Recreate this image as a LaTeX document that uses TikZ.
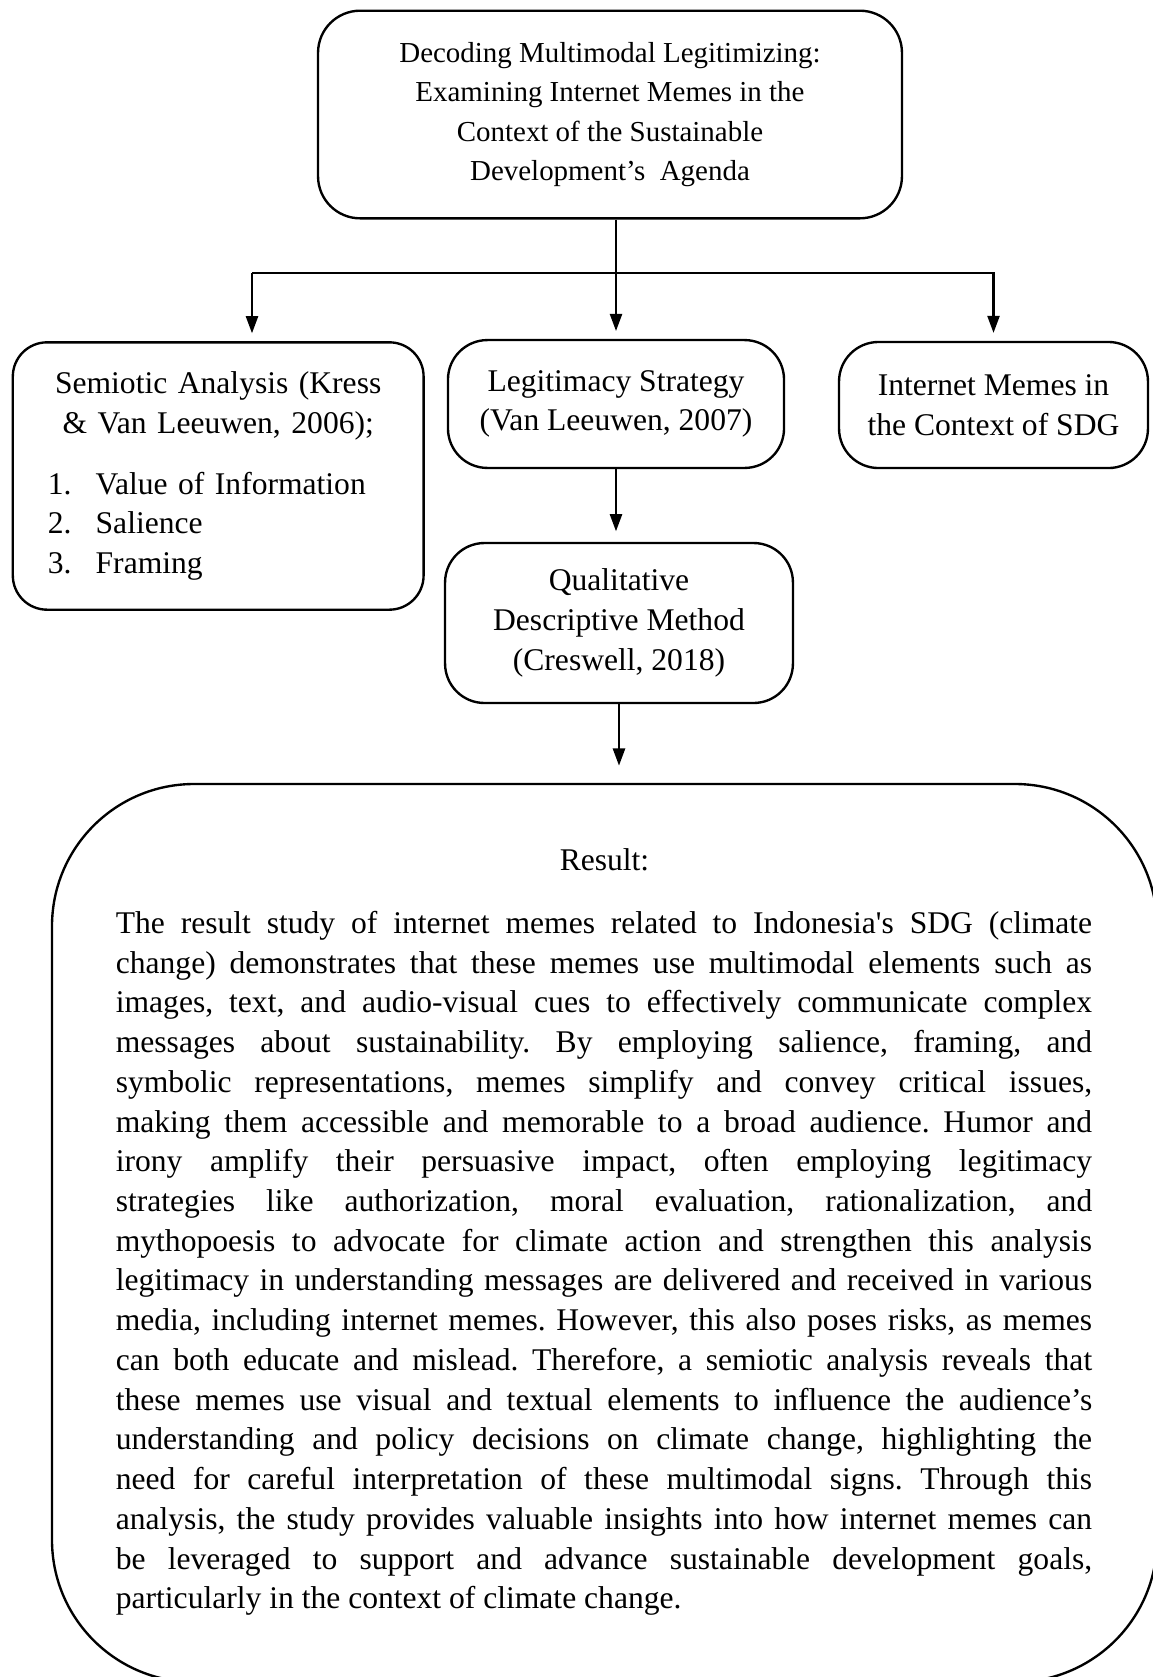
\documentclass[tikz,border=0pt]{standalone}
\usepackage{fontspec}
\setmainfont{Liberation Serif}
\usetikzlibrary{arrows.meta}
\frenchspacing

\begin{document}
\begin{tikzpicture}[x=0.38pt, y=-0.38pt,
  every node/.style={font=\fontsize{12}{15.1}\selectfont},
  boxline/.style={draw, line width=0.9pt, inner sep=0pt},
  box/.style={boxline, rounded corners=15pt, align=center},
  arr/.style={-{Triangle[length=6.5pt,width=4.6pt]}, line width=0.8pt, shorten >=3pt}]
\useasboundingbox (0,0) rectangle (1153,1677);
\clip (0,0) rectangle (1153,1677);

% the boxes
\node[box, font=\fontsize{11}{14.9}\selectfont, rounded corners=16pt,
  minimum width=221.9pt, minimum height=78.9pt] (title) at (610,114.5)
  {Decoding Multimodal Legitimizing:\\Examining Internet Memes in the\\Context of the Sustainable\\Development’s\ \ Agenda};
\node[boxline, rounded corners=13pt, text width=156.1pt, minimum height=101.6pt] (semiotic) at (218.2,476)
  {{\centering Semiotic Analysis (Kress\\\& Van Leeuwen, 2006);\par}\vspace{8pt}%
   \noindent\hspace*{13.3pt}\makebox[18.2pt][l]{1.}Value of Information\\
   \hspace*{13.3pt}\makebox[18.2pt][l]{2.}Salience\\
   \hspace*{13.3pt}\makebox[18.2pt][l]{3.}Framing};
\node[box, minimum width=127.7pt, minimum height=48.6pt] (legit) at (616,404)
  {Legitimacy Strategy\\(Van Leeuwen, 2007)};
\node[box, minimum width=117.4pt, minimum height=47.9pt] (memes) at (993.5,405)
  {Internet Memes in\\the Context of SDG};
\node[box, minimum width=132.2pt, minimum height=60.8pt] (qual) at (619,623)
  {Qualitative\\Descriptive Method\\(Creswell, 2018)};

% result frame, cut by the page edge
\draw[line width=0.9pt, rounded corners=54pt] (52,784) rectangle (1157,1682);
\coordinate (restop) at (622,784);
\node (result) at (604.5,860) {Result:};
\node[anchor=north, text width=371pt, align=justify, inner sep=0pt] (body) at (604,905)
  {\tolerance=10000\hbadness=10000\strut
   The result study of internet memes related to Indonesia\textquotesingle s SDG (climate\linebreak
   change) demonstrates that these memes use multimodal elements such as\linebreak
   images, text, and audio-visual cues to effectively communicate complex\linebreak
   messages about sustainability. By employing salience, framing, and\linebreak
   symbolic representations, memes simplify and convey critical issues,\linebreak
   making them accessible and memorable to a broad audience. Humor and\linebreak
   irony amplify their persuasive impact, often employing legitimacy\linebreak
   strategies like authorization, moral evaluation, rationalization, and\linebreak
   mythopoesis to advocate for climate action and strengthen this analysis\linebreak
   legitimacy in understanding messages are delivered and received in various\linebreak
   media, including internet memes. However, this also poses risks, as memes\linebreak
   can both educate and mislead. Therefore, a semiotic analysis reveals that\linebreak
   these memes use visual and textual elements to influence the audience’s\linebreak
   understanding and policy decisions on climate change, highlighting the\linebreak
   need for careful interpretation of these multimodal signs. Through this\linebreak
   analysis, the study provides valuable insights into how internet memes can\linebreak
   be leveraged to support and advance sustainable development goals,\linebreak
   particularly in the context of climate change.};

% connectors
\coordinate (fork) at (252,273);
\draw[arr] (title.south -| legit.north) -- (legit.north);
\draw[arr] (fork) -- (fork -| memes.north) -- (memes.north);
\draw[arr] (fork) -- (fork |- semiotic.north);
\draw[arr, shorten >=4pt] (legit.south) -- (legit.south |- qual.north);
\draw[arr, shorten >=7pt] (qual.south) -- (qual.south |- restop);
\end{tikzpicture}
\end{document}
